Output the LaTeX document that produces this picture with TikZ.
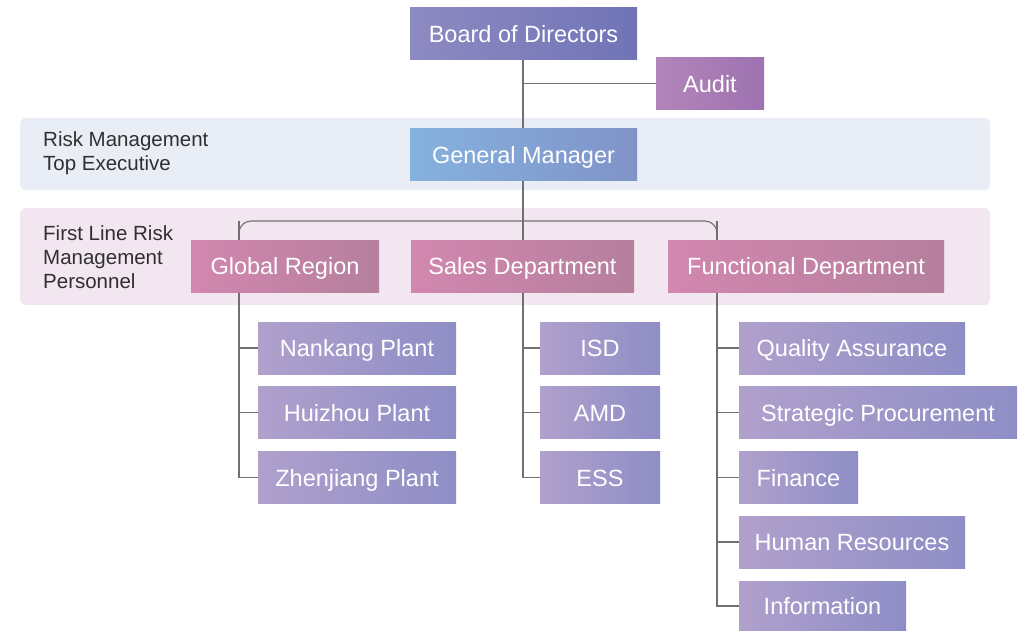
\documentclass[tikz,border=0pt]{standalone}
\usepackage{fontspec}
\setmainfont{Liberation Sans}
\pgfdeclarelayer{band}
\pgfdeclarelayer{link}
\pgfsetlayers{band,link,main}
\definecolor{bandblue}{HTML}{E8EDF6}
\definecolor{bandpink}{HTML}{F2E6F0}
\definecolor{linkgray}{HTML}{707070}
\definecolor{labeltext}{HTML}{303030}
\definecolor{boardL}{RGB}{142,138,194}
\definecolor{boardR}{RGB}{112,116,182}
\definecolor{auditL}{RGB}{178,133,186}
\definecolor{auditR}{RGB}{158,114,177}
\definecolor{gmL}{RGB}{133,178,223}
\definecolor{gmR}{RGB}{128,147,201}
\definecolor{deptL}{RGB}{210,135,174}
\definecolor{deptR}{RGB}{181,127,157}
\definecolor{unitL}{RGB}{176,160,204}
\definecolor{unitR}{RGB}{142,142,198}
\tikzset{
  box/.style={shading=axis, text=white, font=\fontsize{23.5}{26}\selectfont,
    minimum height=52pt, inner sep=0pt, outer sep=0pt, text height=20pt, text depth=3pt},
  board/.style={box, left color=boardL, right color=boardR},
  audit/.style={box, left color=auditL, right color=auditR},
  gm/.style={box, left color=gmL, right color=gmR},
  dept/.style={box, left color=deptL, right color=deptR},
  unit/.style={box, left color=unitL, right color=unitR},
  link/.style={draw=linkgray, line width=1.1pt},
  bandlabel/.style={anchor=north west, align=left, text=labeltext, font=\fontsize{20.5}{24}\selectfont, inner sep=0pt}
}
\begin{document}
\begin{tikzpicture}[x=1pt,y=-1pt]
\useasboundingbox (0,0) rectangle (1023,630);
% bands
\begin{pgfonlayer}{band}
  \fill[bandblue, rounded corners=6pt] (20,118) rectangle (990,190);
  \fill[bandpink, rounded corners=6pt] (20,208) rectangle (990,305);
\end{pgfonlayer}
\node[bandlabel] (toplabel) at (43,131) {Risk Management\\Top Executive};
\node[bandlabel] (firstlabel) at (43,225) {First Line Risk\\Management\\Personnel};
% top
\node[board, minimum width=227pt] (bod) at (523.5,33.5) {Board of Directors};
\node[audit, minimum width=108pt] (audit) at (710,83.5) {Audit};
\node[gm, minimum width=227pt] (gm) at (523.5,154.5) {General Manager};
% departments
\node[dept, minimum width=188pt] (glob) at (285,266) {Global Region};
\node[dept, minimum width=223pt] (sales) at (522.5,266) {Sales Department};
\node[dept, minimum width=276pt] (func) at (806,266) {Functional Department};
% units
\node[unit, minimum width=198pt] (nan) at (357,348) {Nankang Plant};
\node[unit, minimum width=198pt] (hui) at (357,412.5) {Huizhou Plant};
\node[unit, minimum width=198pt] (zhe) at (357,477.5) {Zhenjiang Plant};
\node[unit, minimum width=120pt] (isd) at (600,348) {ISD};
\node[unit, minimum width=120pt] (amd) at (600,412.5) {AMD};
\node[unit, minimum width=120pt] (ess) at (600,477.5) {ESS};
\node[unit, minimum width=226pt, anchor=west] (qa) at (739,348) {Quality Assurance};
\node[unit, minimum width=278pt, anchor=west] (proc) at (739,412.5) {Strategic Procurement};
\node[unit, minimum width=119pt, anchor=west] (fin) at (739,477.5) {Finance};
\node[unit, minimum width=226pt, anchor=west] (hr) at (739,542) {Human Resources};
\node[unit, minimum width=167pt, anchor=west, minimum height=50pt] (info) at (739,606) {Information};
% connectors
\coordinate (busL) at (239,221);
\coordinate (busM) at (523,221);
\coordinate (busR) at (717,221);
\begin{pgfonlayer}{link}
  \draw[link] (bod.south -| busM) -- (gm.north -| busM);
  \draw[link] (busM |- audit.west) -- (audit.west);
  \draw[link] (gm.south -| busM) -- (busM);
  \draw[link, rounded corners=12pt] (glob.north -| busL) -- (busL) -- (busR) -- (func.north -| busR);
  \draw[link] (busL) |- (zhe.west);
  \draw[link] (busL |- nan.west) -- (nan.west);
  \draw[link] (busL |- hui.west) -- (hui.west);
  \draw[link] (busM) |- (ess.west);
  \draw[link] (busM |- isd.west) -- (isd.west);
  \draw[link] (busM |- amd.west) -- (amd.west);
  \draw[link] (busR) |- (info.west);
  \foreach \u in {qa,proc,fin,hr}
    \draw[link] (busR |- \u.west) -- (\u.west);
\end{pgfonlayer}
\end{tikzpicture}
\end{document}
